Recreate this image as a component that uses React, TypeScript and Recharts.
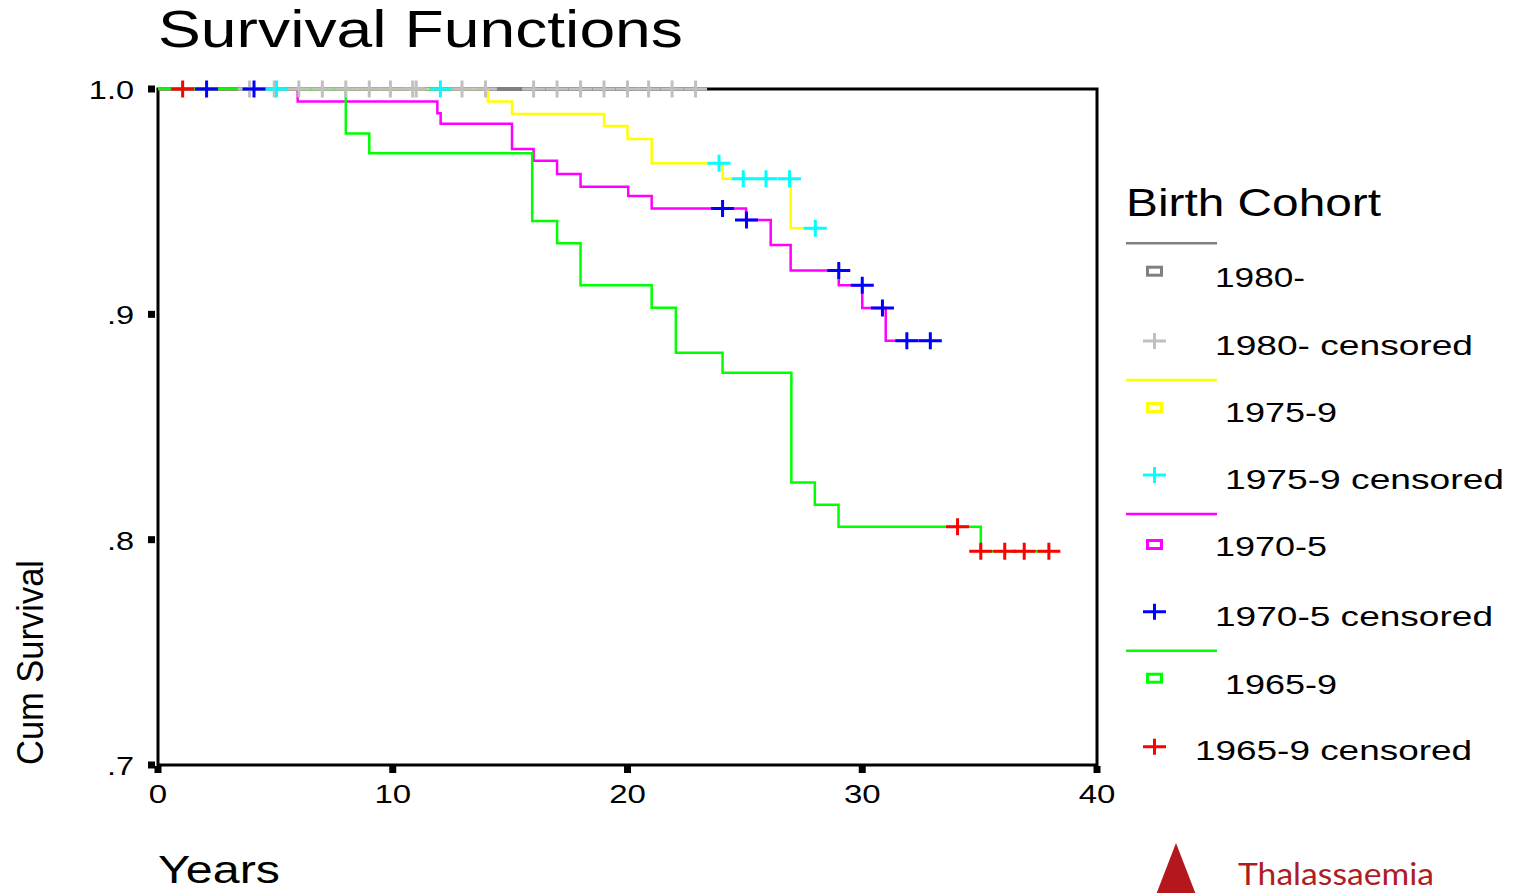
import React from 'react';
import { ComposedChart, Line, Scatter, XAxis, YAxis, ReferenceArea } from 'recharts';

// ---------- axis ticks ----------
const X_TICKS = [0, 10, 20, 30, 40];
const Y_TICKS = [0.7, 0.8, 0.9, 1.0];
const Y_TICK_LABELS: Record<string, string> = { '0.7': '.7', '0.8': '.8', '0.9': '.9', '1': '1.0' };

// ---------- survival step functions (years, cumulative survival) ----------
const C1980_T = [0, 22.9];
const C1980_S = [1, 1];
const C1980_CENS_T = [3.9, 4.95, 6, 7, 8, 9, 9.9, 10.85, 11.0, 12.95, 13.95, 16, 17, 18, 19, 20, 20.9, 21.9, 22.9];
const C1980_CENS_S = [1, 1, 1, 1, 1, 1, 1, 1, 1, 1, 1, 1, 1, 1, 1, 1, 1, 1, 1];

const C1975_T = [0, 14.05, 15.08, 19, 20, 21.03, 24.05, 26.95, 28];
const C1975_S = [1, 0.9944, 0.9889, 0.9836, 0.9778, 0.967, 0.9602, 0.9382, 0.9382];
const C1975_CENS_T = [5.05, 12.03, 23.9, 24.93, 25.9, 26.9, 28];
const C1975_CENS_S = [1, 1, 0.967, 0.9602, 0.9602, 0.9602, 0.9382];

const C1970_T = [0, 5.95, 11.9, 12.04, 15.08, 16, 17, 18, 20.03, 21.03, 25.05, 26.1, 26.95, 29, 30, 31, 32.9];
const C1970_S = [1, 0.9944, 0.9892, 0.9846, 0.9734, 0.9682, 0.9623, 0.9566, 0.9525, 0.947, 0.9419, 0.9308, 0.9194, 0.9129, 0.9028, 0.8883, 0.8883];
const C1970_CENS_T = [2.07, 4.09, 24.05, 25.07, 29, 30, 30.86, 31.9, 32.9];
const C1970_CENS_S = [1, 1, 0.947, 0.9419, 0.9194, 0.9129, 0.9028, 0.8883, 0.8883];

const C1965_T = [0, 8, 9, 15.94, 17, 18, 21.03, 22.06, 24.05, 26.98, 27.98, 28.99, 35.05, 37.95];
const C1965_S = [1, 0.9803, 0.9715, 0.9414, 0.9315, 0.9129, 0.9029, 0.883, 0.8741, 0.8254, 0.8155, 0.8057, 0.7949, 0.7949];
const C1965_CENS_T = [1.05, 34.06, 35.05, 36.07, 36.9, 37.95];
const C1965_CENS_S = [1, 0.8057, 0.7949, 0.7949, 0.7949, 0.7949];

// ---------- legend ----------
const LEGEND_TITLE = 'Birth Cohort';
const COHORTS = ['1980-', '1975-9', '1970-5', '1965-9'];
const LINE_COLORS = ['#808080', '#ffff00', '#ff00ff', '#00ff00'];
const CENS_COLORS = ['#c0c0c0', '#00ffff', '#0000ff', '#ff0000'];

const toPoints = (t: number[], s: number[]) => t.map((v, i) => ({ t: v, s: s[i] }));

const LINES = [
  { name: COHORTS[0], data: toPoints(C1980_T, C1980_S), color: LINE_COLORS[0] },
  { name: COHORTS[1], data: toPoints(C1975_T, C1975_S), color: LINE_COLORS[1] },
  { name: COHORTS[2], data: toPoints(C1970_T, C1970_S), color: LINE_COLORS[2] },
  { name: COHORTS[3], data: toPoints(C1965_T, C1965_S), color: LINE_COLORS[3] },
];
const CENSORED = [
  { name: COHORTS[0] + ' censored', data: toPoints(C1980_CENS_T, C1980_CENS_S), color: CENS_COLORS[0] },
  { name: COHORTS[1] + ' censored', data: toPoints(C1975_CENS_T, C1975_CENS_S), color: CENS_COLORS[1] },
  { name: COHORTS[2] + ' censored', data: toPoints(C1970_CENS_T, C1970_CENS_S), color: CENS_COLORS[2] },
  { name: COHORTS[3] + ' censored', data: toPoints(C1965_CENS_T, C1965_CENS_S), color: CENS_COLORS[3] },
];

const FONT = '"Liberation Sans", Arial, Helvetica, sans-serif';
const W = 1517;
const H = 893;
const PLOT_LEFT = 158;
const PLOT_BOTTOM = 765;

function XTick(props: any) {
  const { x, payload } = props;
  return (
    <g>
      <rect x={x - 3.5} y={PLOT_BOTTOM + 1} width={7} height={7} fill="#000" />
      <text
        transform={`translate(${x},803) scale(1.27,1)`}
        textAnchor="middle"
        fontFamily={FONT}
        fontSize={26}
        fill="#000"
      >
        {String(payload.value)}
      </text>
    </g>
  );
}

function YTick(props: any) {
  const { y, payload } = props;
  const label = Y_TICK_LABELS[String(payload.value)] ?? String(payload.value);
  return (
    <g>
      <rect x={PLOT_LEFT - 10} y={y - 3.5} width={7} height={7} fill="#000" />
      <text
        transform={`translate(${PLOT_LEFT - 24},${y + 10}) scale(1.3,1)`}
        textAnchor="end"
        fontFamily={FONT}
        fontSize={25}
        fill="#000"
      >
        {label}
      </text>
    </g>
  );
}

const plusShape = (color: string) => (p: any) => {
  const { cx, cy } = p;
  if (cx == null || cy == null) return <g />;
  return (
    <path
      d={`M${cx - 11.5},${cy}H${cx + 11.5}M${cx},${cy - 8.5}V${cy + 8.5}`}
      stroke={color}
      strokeWidth={3}
      fill="none"
    />
  );
};

const LEGEND_ROWS = [
  { lineY: 243.3, squareY: 267.2, plusY: 341, labelX: 1215, labelY: 287.3, labelW: 90, censX: 1215, censY: 355, censW: 258 },
  { lineY: 380, squareY: 403.5, plusY: 475, labelX: 1225, labelY: 422.3, labelW: 112, censX: 1225, censY: 489, censW: 279 },
  { lineY: 514, squareY: 540.5, plusY: 611.7, labelX: 1215, labelY: 556, labelW: 112, censX: 1215, censY: 626, censW: 278 },
  { lineY: 650.7, squareY: 674.2, plusY: 746.7, labelX: 1225, labelY: 694, labelW: 112, censX: 1195, censY: 760, censW: 277 },
];

function Overlay() {
  return (
    <svg
      width={W}
      height={H}
      style={{ position: 'absolute', left: 0, top: 0, pointerEvents: 'none' }}
    >
      <text x={158} y={47} fontFamily={FONT} fontSize={52} textLength={525} lengthAdjust="spacingAndGlyphs" fill="#000">
        Survival Functions
      </text>
      <text
        transform="translate(43,765) rotate(-90)"
        fontFamily={FONT}
        fontSize={36}
        textLength={205}
        lengthAdjust="spacingAndGlyphs"
        fill="#000"
      >
        Cum Survival
      </text>
      <text x={158} y={883} fontFamily={FONT} fontSize={38} textLength={122} lengthAdjust="spacingAndGlyphs" fill="#000">
        Years
      </text>

      <text x={1126} y={216} fontFamily={FONT} fontSize={39} textLength={255} lengthAdjust="spacingAndGlyphs" fill="#000">
        {LEGEND_TITLE}
      </text>
      {LEGEND_ROWS.map((r, i) => (
        <g key={i}>
          <line x1={1126} x2={1217} y1={r.lineY} y2={r.lineY} stroke={LINE_COLORS[i]} strokeWidth={2.5} />
          <rect x={1147.5} y={r.squareY} width={14} height={8} fill="none" stroke={LINE_COLORS[i]} strokeWidth={3} />
          <path
            d={`M${1154.5 - 11.5},${r.plusY}H${1154.5 + 11.5}M1154.5,${r.plusY - 8}V${r.plusY + 8}`}
            stroke={CENS_COLORS[i]}
            strokeWidth={3}
            fill="none"
          />
          <text x={r.labelX} y={r.labelY} fontFamily={FONT} fontSize={28} textLength={r.labelW} lengthAdjust="spacingAndGlyphs" fill="#000">
            {COHORTS[i]}
          </text>
          <text x={r.censX} y={r.censY} fontFamily={FONT} fontSize={28} textLength={r.censW} lengthAdjust="spacingAndGlyphs" fill="#000">
            {CENSORED[i].name}
          </text>
        </g>
      ))}

      <polygon points="1176,843 1154,900 1198,900" fill="#b5171f" />
      <text x={1238} y={885} fontFamily="Lato, 'Open Sans', sans-serif" fontSize={31} textLength={196} lengthAdjust="spacingAndGlyphs" fill="#b01c23">
        Thalassaemia
      </text>
    </svg>
  );
}

export default function App() {
  return (
    <div style={{ position: 'absolute', left: 0, top: 0, width: W, height: H, background: '#fff', overflow: 'hidden' }}>
      <ComposedChart width={W} height={H} margin={{ top: 89, right: 420, bottom: 88, left: 98 }}>
        <XAxis
          type="number"
          dataKey="t"
          domain={[0, 40]}
          ticks={X_TICKS}
          interval={0}
          axisLine={false}
          tickLine={false}
          height={40}
          tick={(p: any) => <XTick {...p} />}
        />
        <YAxis
          type="number"
          dataKey="s"
          domain={[0.7, 1]}
          ticks={Y_TICKS}
          interval={0}
          axisLine={false}
          tickLine={false}
          width={60}
          tick={(p: any) => <YTick {...p} />}
        />
        <ReferenceArea x1={0} x2={40} y1={0.7} y2={1} fill="none" fillOpacity={0} stroke="#000" strokeWidth={3} ifOverflow="visible" />
        {LINES.map((l) => (
          <Line
            key={l.name}
            name={l.name}
            data={l.data}
            dataKey="s"
            type="stepAfter"
            stroke={l.color}
            strokeWidth={2.5}
            dot={false}
            activeDot={false}
            isAnimationActive={false}
            legendType="none"
          />
        ))}
        {CENSORED.map((c) => (
          <Scatter
            key={c.name}
            name={c.name}
            data={c.data}
            dataKey="s"
            fill={c.color}
            shape={plusShape(c.color)}
            isAnimationActive={false}
            legendType="none"
          />
        ))}
      </ComposedChart>
      <Overlay />
    </div>
  );
}
